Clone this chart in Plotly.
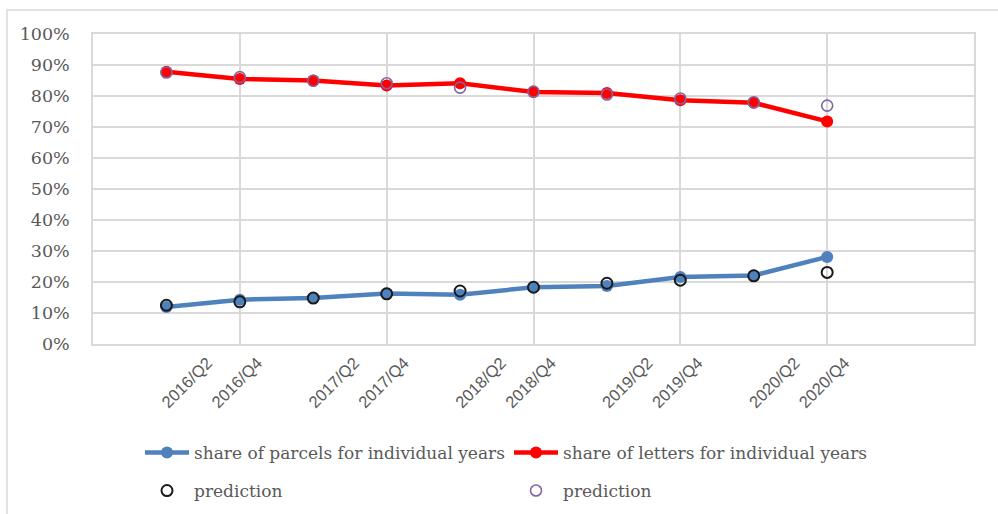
import plotly.graph_objects as go

# ---- data ----
periods = ["2016/Q2", "2016/Q4", "2017/Q2", "2017/Q4", "2018/Q2",
           "2018/Q4", "2019/Q2", "2019/Q4", "2020/Q2", "2020/Q4"]
parcels = [11.9, 14.3, 14.8, 16.3, 15.9, 18.3, 18.7, 21.6, 22.1, 28.1]
parcels_pred = [12.5, 13.6, 14.8, 16.2, 17.1, 18.3, 19.6, 20.6, 22.0, 23.1]
letters = [87.8, 85.5, 85.0, 83.4, 84.1, 81.3, 81.0, 78.6, 77.8, 71.8]
letters_pred = [87.6, 86.1, 84.9, 84.1, 82.7, 81.4, 80.5, 79.2, 78.0, 76.9]
y_ticks = [0, 10, 20, 30, 40, 50, 60, 70, 80, 90, 100]

# positions on the category axis (category i sits on tick i+1)
xpos = [i + 1 for i in range(len(periods))]
label_shift = {"Q2": 0.56, "Q4": 0.24}
tick_pos = [x + label_shift[p.split("/")[1]] for x, p in zip(xpos, periods)]

BLUE = "#4f81bd"
RED = "#ff0000"
PURPLE = "#8064a2"
GRID = "#d9d9d9"
TXT = "#595959"
SERIF = "DejaVu Serif"

fig = go.Figure()
fig.add_trace(go.Scatter(
    x=xpos, y=[v / 100 for v in parcels], mode="lines+markers",
    name="share of parcels for individual years",
    line=dict(color=BLUE, width=4.5), marker=dict(color=BLUE, size=12),
    legend="legend"))
fig.add_trace(go.Scatter(
    x=xpos, y=[v / 100 for v in letters], mode="lines+markers",
    name="share of letters for individual years",
    line=dict(color=RED, width=4.5), marker=dict(color=RED, size=12),
    legend="legend"))
fig.add_trace(go.Scatter(
    x=xpos, y=[v / 100 for v in parcels_pred], mode="markers",
    name="prediction",
    marker=dict(symbol="circle-open", color="#1a1a1a", size=11,
                line=dict(width=2)),
    legend="legend2"))
fig.add_trace(go.Scatter(
    x=xpos, y=[v / 100 for v in letters_pred], mode="markers",
    name="prediction",
    marker=dict(symbol="circle-open", color=PURPLE, size=11,
                line=dict(width=1.6)),
    legend="legend2"))

W, H = 998, 514
ml, mr, mt, mb = 93, 24, 34, 170
pw, ph = W - ml - mr, H - mt - mb

legend_common = dict(
    orientation="h", xref="container", yref="container",
    x=(140) / W, xanchor="left", yanchor="middle",
    entrywidth=310, entrywidthmode="pixels", itemwidth=44,
    font=dict(family=SERIF, size=17, color=TXT),
    bgcolor="rgba(0,0,0,0)", traceorder="normal",
)

fig.update_layout(
    width=W, height=H,
    margin=dict(l=ml, r=mr, t=mt, b=mb, autoexpand=False),
    paper_bgcolor="white", plot_bgcolor="white",
    xaxis=dict(
        range=[0, 12], showgrid=False, zeroline=False, automargin=False,
        tickmode="array", tickvals=tick_pos, ticktext=periods,
        tickangle=-45, tickfont=dict(family="Liberation Sans", size=16.5, color=TXT),
        showline=True, linecolor=GRID, linewidth=1.5, mirror=True,
        ticklabelstandoff=1,
        minor=dict(tickmode="linear", tick0=0, dtick=2, showgrid=True,
                   gridcolor=GRID, gridwidth=1.5, ticks=""),
    ),
    yaxis=dict(
        range=[0, 1], tickmode="array", tickvals=[v / 100 for v in y_ticks],
        tickformat=".0%", showgrid=True, gridcolor=GRID, gridwidth=1.5,
        zeroline=False, showline=True, linecolor=GRID, linewidth=1.5, mirror=True,
        tickfont=dict(family=SERIF, size=17.5, color=TXT),
        ticklabelstandoff=18, automargin=False,
    ),
    legend=dict(legend_common, y=1 - 453 / H),
    legend2=dict(legend_common, y=1 - 491 / H),
    shapes=[dict(type="rect", xref="paper", yref="paper",
                 x0=(7 - ml) / pw, x1=(1010 - ml) / pw,
                 y0=(344 - 530) / ph, y1=(344 - 10) / ph,
                 line=dict(color=GRID, width=1.5), fillcolor="rgba(0,0,0,0)",
                 layer="below")],
    showlegend=True,
)

fig.write_html("out.html")
